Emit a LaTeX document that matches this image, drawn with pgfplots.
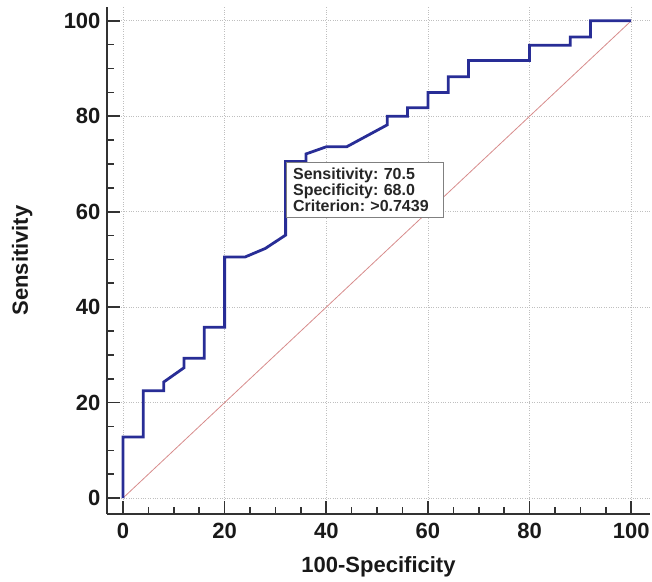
\documentclass[border=0pt]{standalone}
\usepackage{pgfplots}
\pgfplotsset{compat=1.18}
\usepackage{fontspec}
\setmainfont{Liberation Sans}
\definecolor{roc}{RGB}{40,45,150}
\definecolor{diag}{RGB}{215,140,140}
\definecolor{axl}{RGB}{50,50,50}
\frenchspacing
\begin{document}
\begin{tikzpicture}
\path[use as bounding box] (-107pt,-67pt) rectangle (545pt,514pt);
\begin{axis}[
  at={(0,0)}, anchor=south west,
  scale only axis, width=543pt, height=507pt,
  xmin=-3.15, xmax=103.7, ymin=-3.35, ymax=102.9,
  axis x line*=bottom, axis y line*=left,
  xtick={0,20,...,100}, ytick={0,20,...,100},
  minor x tick num=3, minor y tick num=3,
  tick align=inside,
  major tick length=13pt, minor tick length=7pt,
  every tick/.style={line width=1.6pt, color=axl},
  axis line style={line width=2.6pt, color=axl},
  grid=major,
  major grid style={dotted, gray!50, line width=0.7pt},
  /pgf/number format/assume math mode=true,
  ticklabel style={font=\bfseries\fontsize{22}{22}\selectfont, text=black!90},
  xticklabel style={anchor=north, yshift=-6pt},
  yticklabel style={anchor=east, xshift=-3pt},
  xlabel={100-Specificity},
  ylabel={Sensitivity},
  label style={font=\bfseries\fontsize{22}{22}\selectfont, text=black!90},
  xlabel style={at={(axis description cs:0.5,0)}, anchor=base, yshift=-58pt},
  ylabel style={at={(axis description cs:-0.1455,0.5)}, anchor=base, rotate=0},
  clip=false,
]
\addplot[diag, line width=0.8pt] coordinates {(0,0) (100,100)};
\addplot[roc, line width=2.8pt, line join=miter] coordinates {
(0,0)(0,12.8)(4,12.8)(4,22.5)(8,22.5)(8,24.3)(12,27.3)(12,29.3)(16,29.3)(16,35.8)(20,35.8)(20,50.5)(24,50.5)(28,52.3)(32,55.1)(32,70.5)(36,70.5)(36,72.1)(40,73.6)(44,73.6)(52,78.2)(52,80)(56,80)(56,81.8)(60,81.8)(60,85)(64,85)(64,88.3)(68,88.3)(68,91.7)(80,91.7)(80,94.9)(88,94.9)(88,96.6)(92,96.6)(92,100)(100,100)
};
\node[draw=gray, line width=0.9pt, fill=white, anchor=north west, align=left,
  text width=143pt, inner xsep=7pt, inner ysep=6pt, text=black!85,
  font=\bfseries\fontsize{16}{16}\selectfont]
  at (axis cs:32,70.5) {Sensitivity: 70.5\\Specificity: 68.0\\Criterion: >0.7439};
\end{axis}
\end{tikzpicture}
\end{document}
